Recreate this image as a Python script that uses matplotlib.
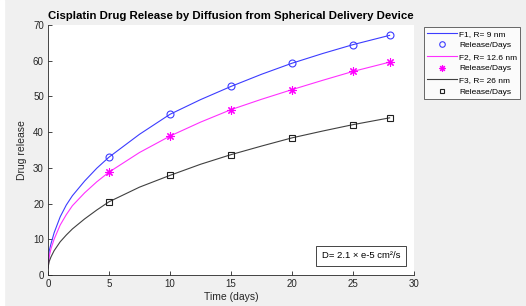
import numpy as np
import matplotlib.pyplot as plt
from matplotlib.patches import Rectangle

plt.rcParams['font.family'] = ['Liberation Sans', 'DejaVu Sans']

# smooth release curves
t_curve = [0, 0.1, 0.25, 0.5, 1, 1.5, 2, 3, 4, 5, 7.5, 10, 12.5, 15, 17.5, 20, 22.5, 25, 28]
f1_curve = [2, 6.8, 8.8, 11.8, 16.3, 19.6, 22.2, 26.3, 29.9, 33.0, 39.4, 45.0, 49.1, 52.8, 56.2, 59.3, 62.0, 64.5, 67.1]
f2_curve = [2, 5.2, 7.4, 10.0, 14.0, 16.9, 19.4, 23.0, 26.1, 28.8, 34.3, 38.9, 42.8, 46.3, 49.2, 51.9, 54.5, 57.0, 59.6]
f3_curve = [2, 3.8, 5.1, 6.8, 9.3, 11.2, 12.9, 15.7, 18.2, 20.5, 24.6, 27.9, 31.0, 33.7, 36.1, 38.4, 40.3, 42.1, 44.0]

# sampled points
days = [5, 10, 15, 20, 25, 28]
f1_pts = [33.0, 45.0, 52.8, 59.3, 64.5, 67.1]
f2_pts = [28.8, 38.9, 46.3, 51.9, 57.0, 59.6]
f3_pts = [20.5, 27.9, 33.7, 38.4, 42.1, 44.0]

bg = '#f0f0f0'
fig = plt.figure(figsize=(5.26, 3.06), dpi=100, facecolor=bg)
fig.patches.append(Rectangle((0, 0), 4/526, 1, transform=fig.transFigure, color='white', zorder=-1))
ax = fig.add_axes([48/526, 1-275/306, 366/526, 250/306])

ax.plot(t_curve, f1_curve, color='#3c3cff', lw=0.8, label='F1, R= 9 nm')
ax.plot(days, f1_pts, 'o', mfc='none', mec='#3c3cff', ms=5, mew=0.8, label='Release/Days')
ax.plot(t_curve, f2_curve, color='#ff30ff', lw=0.8, label='F2, R= 12.6 nm')
ax.plot(days, f2_pts, marker=(8, 2, 0), ls='none', color='#ff00ff', ms=6, mew=0.8, label='Release/Days')
ax.plot(t_curve, f3_curve, color='#404040', lw=0.8, label='F3, R= 26 nm')
ax.plot(days, f3_pts, 's', mfc='none', mec='#202020', ms=4, mew=0.8, label='Release/Days')

ax.set_xlim(0, 30)
ax.set_ylim(0, 70)
ax.set_xticks(range(0, 31, 5))
ax.set_yticks(range(0, 71, 10))
for s in ['top', 'right']:
    ax.spines[s].set_visible(False)
for s in ['left', 'bottom']:
    ax.spines[s].set_color('#262626')
    ax.spines[s].set_linewidth(0.6)
ax.tick_params(direction='in', length=3, width=0.6, labelsize=7, colors='#262626', pad=3)

ax.set_title('Cisplatin Drug Release by Diffusion from Spherical Delivery Device',
             fontsize=8.2, fontweight='bold', pad=4)
ax.set_xlabel('Time (days)', fontsize=7.5, color='#262626', labelpad=2)
ax.set_ylabel('Drug release', fontsize=7.5, color='#262626', labelpad=4)

leg = ax.legend(loc='upper left', bbox_to_anchor=((424 - 48)/366, 1.0 - 2/250), fontsize=6,
                frameon=True, fancybox=False, edgecolor='#262626', handlelength=3.6,
                borderaxespad=0, borderpad=0.35, labelspacing=0.45, handletextpad=0.3,
                markerscale=0.8)
leg.get_frame().set_linewidth(0.6)

ax.text(0.962, 0.076, 'D= 2.1 \u00d7 e-5 cm\u00b2/s', transform=ax.transAxes, fontsize=6.8,
        ha='right', va='center',
        bbox=dict(boxstyle='square,pad=0.6', fc='white', ec='#262626', lw=0.6))

fig.savefig('out.png', dpi=100, facecolor=bg)
